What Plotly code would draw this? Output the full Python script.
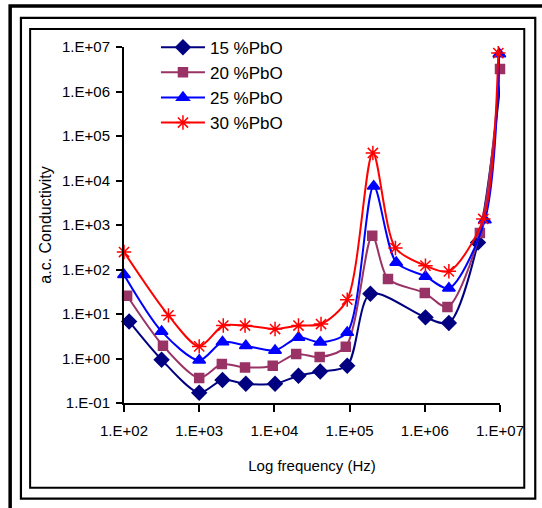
import plotly.graph_objects as go

# ---- data ----
f15 = [117, 316, 1000, 2040, 4170, 10200, 20900, 40700, 93000, 189000, 1020000, 2090000, 5100000, 10400000]
s15 = [6.8, 0.94, 0.17, 0.33, 0.27, 0.27, 0.41, 0.51, 0.69, 28.6, 8.4, 6.3, 405, 2.26e6]

f20 = [110, 330, 1000, 2000, 4070, 9500, 19500, 40000, 89000, 200000, 324000, 1000000, 2000000, 5400000, 10000000]
s20 = [25.7, 1.94, 0.365, 0.75, 0.63, 0.69, 1.26, 1.08, 1.84, 575, 61, 29.6, 14.4, 660, 3.2e6]

f25 = [100, 316, 1000, 2040, 4170, 10200, 20900, 40700, 93000, 209000, 417000, 1020000, 2090000, 6300000, 9800000]
s25 = [76, 4.06, 0.91, 2.35, 1.94, 1.52, 2.98, 2.31, 3.86, 7400, 144, 70, 38, 1300, 7.0e6]

f30 = [100, 390, 1000, 2090, 4070, 10200, 20900, 41700, 93000, 204000, 407000, 1020000, 2090000, 6000000, 9500000]
s30 = [247, 9.3, 1.87, 5.5, 5.5, 4.6, 5.5, 5.95, 21, 41600, 304, 122, 91, 1365, 7.3e6]

names = ["15 %PbO", "20 %PbO", "25 %PbO", "30 %PbO"]
xticks = [1e2, 1e3, 1e4, 1e5, 1e6, 1e7]
xtick_text = ["1.E+02", "1.E+03", "1.E+04", "1.E+05", "1.E+06", "1.E+07"]
yticks = [1e-1, 1e0, 1e1, 1e2, 1e3, 1e4, 1e5, 1e6, 1e7]
ytick_text = ["1.E-01", "1.E+00", "1.E+01", "1.E+02", "1.E+03", "1.E+04", "1.E+05", "1.E+06", "1.E+07"]

FONT = "Arial, Liberation Sans, sans-serif"
W, H = 542, 508
L, R, T, B = 124, 500.5, 47.3, 403.3

styles = [
    dict(color="#000080", symbol="diamond", size=11),
    dict(color="#993366", symbol="square", size=9),
    dict(color="#0000FF", symbol="triangle-up", size=11),
    dict(color="#FF0000", symbol="asterisk-open", size=12),
]

fig = go.Figure()
for (fx, sy), name, st in zip([(f15, s15), (f20, s20), (f25, s25), (f30, s30)], names, styles):
    fig.add_trace(go.Scatter(
        x=fx, y=sy, name=name, mode="lines+markers",
        line=dict(color=st["color"], width=2, shape="spline", smoothing=0.8),
        marker=dict(symbol=st["symbol"], size=st["size"], color=st["color"],
                    line=dict(color=st["color"], width=1.5)),
        cliponaxis=False,
    ))

def px2paper(px, py):
    return (px - L) / (R - L), (B - py) / (B - T)

def frame(x0, y0, x1, y1, w):
    a, b = px2paper(x0, y0)
    c, d = px2paper(x1, y1)
    return dict(type="rect", xref="paper", yref="paper", x0=a, y0=d, x1=c, y1=b,
                line=dict(color="black", width=w), fillcolor="rgba(0,0,0,0)", layer="below")

fig.update_layout(
    width=W, height=H,
    margin=dict(l=L, r=W - R, t=T, b=H - B, pad=0, autoexpand=False),
    paper_bgcolor="white", plot_bgcolor="white",
    font=dict(family=FONT, color="black", size=15),
    showlegend=True,
    legend=dict(x=px2paper(156, 0)[0], y=px2paper(0, 30)[1], xanchor="left", yanchor="top",
                bgcolor="rgba(0,0,0,0)", font=dict(size=17, family=FONT), tracegroupgap=0,
                itemwidth=44),
    shapes=[
        frame(10, 6.2, 570, 540, 3.5),
        frame(20.8, 18.2, 535.8, 499, 2.2),
        frame(30, 29.2, 524.8, 488, 2),
    ],
    xaxis=dict(type="log", range=[2, 7], showgrid=False, zeroline=False, automargin=False,
               showline=True, linecolor="black", linewidth=2,
               ticks="outside", ticklen=7, tickwidth=2, tickcolor="black",
               tickvals=xticks, ticktext=xtick_text, tickfont=dict(size=15),
               ticklabelstandoff=6,
               title=dict(text="Log frequency (Hz)", font=dict(size=15), standoff=22)),
    yaxis=dict(type="log", range=[-1, 7], showgrid=False, zeroline=False, automargin=False,
               showline=True, linecolor="black", linewidth=2,
               ticks="outside", ticklen=6, tickwidth=2, tickcolor="black",
               tickvals=yticks, ticktext=ytick_text, tickfont=dict(size=15),
               ticklabelstandoff=3,
               title=dict(text="a.c. Conductivity", font=dict(size=16), standoff=6)),
)

fig.write_html("out.html", config={"displayModeBar": False},
               post_script="document.body.style.margin='0';document.body.style.overflow='hidden';")
